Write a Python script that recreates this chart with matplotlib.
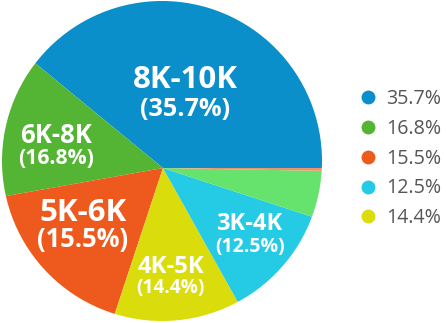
import numpy as np
import matplotlib
matplotlib.use("Agg")
import matplotlib.pyplot as plt
from matplotlib.lines import Line2D
from matplotlib.patches import Circle

plt.rcParams["font.family"] = ["Open Sans", "DejaVu Sans"]

# slice shares as drawn (counter-clockwise from the right)
ranges = ["8K-10K", "6K-8K", "5K-6K", "4K-5K", "3K-4K", "", ""]
shares = [39.06, 13.75, 17.11, 13.19, 11.86, 4.75, 0.28]
pct_labels = ["35.7%", "16.8%", "15.5%", "14.4%", "12.5%"]
colors = ["#0a8fca", "#54b433", "#ee5a1d", "#dbdc0c", "#25cbe4", "#66e36d", "#f28f6a"]

# legend order as in the picture
legend_idx = [0, 1, 2, 4, 3]

# label styles: radius, angle shift from wedge middle, line gap, font sizes
label_r = [0.519, 0.687, 0.600, 0.660, 0.666]
label_shift = [4.0, 1.35, -7.6, -1.15, 3.85]
label_gap = [0.173, 0.135, 0.1625, 0.122, 0.136]
name_fs = [22.5, 18.5, 22.5, 17.2, 17]
pct_fs = [18.2, 15.2, 18.4, 13.8, 14]

W, H = 446, 323
fig = plt.figure(figsize=(W / 100, H / 100), dpi=100)
ax = fig.add_axes([2 / W, 2 / H, 320 / W, 320 / H])

# the slices meet slightly below the middle of the disc
hub = (0.006, -0.044)
wedges, _ = ax.pie(shares, colors=colors, startangle=0, counterclock=True,
                   radius=1.1, center=hub, wedgeprops=dict(linewidth=0))
disc = Circle((0, 0), 1, transform=ax.transData)
for w in wedges:
    w.set_clip_path(disc)
    w.set_clip_on(True)
ax.set_xlim(-1, 1)
ax.set_ylim(-1, 1)
ax.axis("off")

for i, name in enumerate(ranges[:5]):
    w = wedges[i]
    ang = np.deg2rad((w.theta1 + w.theta2) / 2 + label_shift[i])
    x = hub[0] + label_r[i] * np.cos(ang)
    y = hub[1] + label_r[i] * np.sin(ang)
    ax.text(x, y, name, ha="center", va="baseline", color="white",
            fontsize=name_fs[i], fontweight="bold")
    ax.text(x, y - label_gap[i], "(" + pct_labels[i] + ")", ha="center", va="baseline",
            color="white", fontsize=pct_fs[i], fontweight="bold")

handles = [Line2D([], [], marker="o", linestyle="none", markersize=10,
                  markerfacecolor=colors[i], markeredgewidth=0) for i in legend_idx]
texts = [pct_labels[i] for i in legend_idx]
leg = fig.legend(handles, texts, loc="center left", bbox_to_anchor=(348 / W, 1 - 158.7 / H),
                 frameon=False, fontsize=14.1, labelspacing=0.5, handlelength=1.0,
                 handletextpad=0.45, borderpad=0)
for t in leg.get_texts():
    t.set_color("#555555")

fig.savefig("out.png", dpi=100, facecolor="white")
